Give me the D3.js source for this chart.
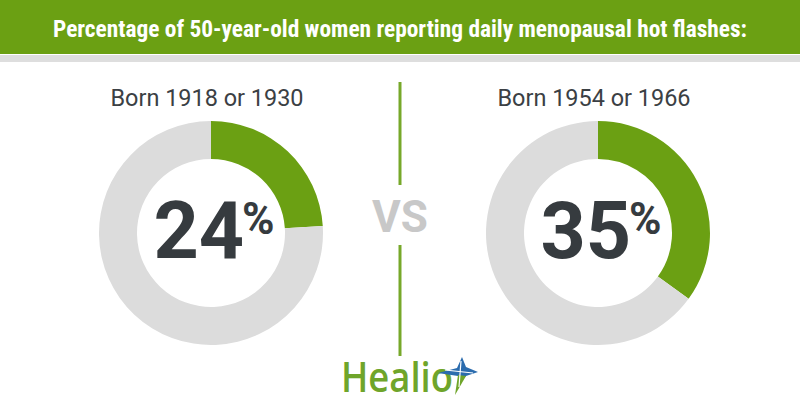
<!DOCTYPE html>
<html>
<head>
<meta charset="utf-8">
<script src="https://cdn.jsdelivr.net/npm/d3@7"></script>
<style>
  html, body { margin: 0; padding: 0; background: #fff; }
  svg { display: block; }
</style>
</head>
<body>
<div id="chart"></div>
<script>
const title = "Percentage of 50-year-old women reporting daily menopausal hot flashes:";
const groups = ["Born 1918 or 1930", "Born 1954 or 1966"];
const percents = [24, 35];
const vsLabel = "VS";
const brand = "Healio";

const W = 800, H = 420;
const green = "#6ba013";
const grey = "#dcdcdc";
const dark = "#363b3f";

const svg = d3.select("#chart").append("svg")
  .attr("width", W).attr("height", H);

svg.append("rect").attr("x", 0).attr("y", 0).attr("width", W).attr("height", H).attr("fill", "#fff");

// header
svg.append("rect").attr("x", 0).attr("y", 0).attr("width", W).attr("height", 54).attr("fill", green);
svg.append("rect").attr("x", 0).attr("y", 55).attr("width", W).attr("height", 7).attr("fill", "#dedede");
svg.append("text")
  .attr("x", 400).attr("y", 37)
  .attr("text-anchor", "middle")
  .attr("font-family", "'Roboto Condensed','Liberation Sans Narrow',Roboto,sans-serif")
  .attr("font-weight", "bold")
  .attr("font-size", 23.5)
  .attr("fill", "#fff")
  .attr("textLength", 694)
  .attr("lengthAdjust", "spacingAndGlyphs")
  .text(title);

// scales
const x = d3.scalePoint().domain(groups).range([211, 598]);
const pie = d3.pie().sort(null).value(d => d);
const arc = d3.arc().innerRadius(74).outerRadius(112);
const cy = 233;

groups.forEach((g, i) => {
  const cx = x(g);
  const gg = svg.append("g").attr("transform", `translate(${cx},${cy})`);
  const arcs = pie([percents[i], 100 - percents[i]]);
  gg.selectAll("path").data(arcs).join("path")
    .attr("d", arc)
    .attr("fill", (d, j) => j === 0 ? green : grey);

  svg.append("text")
    .attr("x", cx - 4).attr("y", 106)
    .attr("text-anchor", "middle")
    .attr("font-family", "Roboto, sans-serif")
    .attr("font-size", 23)
    .attr("fill", "#3b4044")
    .attr("textLength", 193)
    .attr("lengthAdjust", "spacingAndGlyphs")
    .text(g);

  const t = svg.append("text")
    .attr("x", cx + 3).attr("y", 258)
    .attr("text-anchor", "middle")
    .attr("font-family", "Roboto, sans-serif")
    .attr("font-weight", "bold")
    .attr("fill", dark);
  t.append("tspan").attr("font-size", 79).text(percents[i]);
  t.append("tspan").attr("font-size", 44).attr("dx", -2).attr("dy", -24).text("%");
});

// divider
svg.append("line").attr("x1", 400).attr("x2", 400).attr("y1", 82).attr("y2", 185)
  .attr("stroke", "#77a82a").attr("stroke-width", 3);
svg.append("line").attr("x1", 400).attr("x2", 400).attr("y1", 245).attr("y2", 356)
  .attr("stroke", "#77a82a").attr("stroke-width", 3);
svg.append("text")
  .attr("x", 400).attr("y", 232)
  .attr("text-anchor", "middle")
  .attr("font-family", "Roboto, sans-serif")
  .attr("font-weight", "bold")
  .attr("font-size", 44)
  .attr("fill", "#c8c8c8")
  .text(vsLabel);

// logo
svg.append("text")
  .attr("x", 341).attr("y", 392)
  .attr("font-family", "'Open Sans', sans-serif")
  .attr("font-weight", 600)
  .attr("font-size", 42)
  .attr("fill", "#6fa52a")
  .attr("textLength", 112)
  .attr("lengthAdjust", "spacingAndGlyphs")
  .text(brand);

const star = svg.append("g").attr("transform", "translate(461,373)");
// blue star points
star.append("path")
  .attr("d", "M-23,0 L-4,-5 L1,-16 L5,-6 L17,-1 L5,3 L1,8 L-3,3 Z")
  .attr("fill", "#2b6cae");
// green lower point
star.append("path")
  .attr("d", "M-3,2 L5,3 L-6,22 Z")
  .attr("fill", "#6fa52a");
star.append("path")
  .attr("d", "M-16,-3 L12,0 M0,-12 L-2,14")
  .attr("stroke", "#fff").attr("stroke-width", 1.2).attr("fill", "none");
</script>
</body>
</html>
